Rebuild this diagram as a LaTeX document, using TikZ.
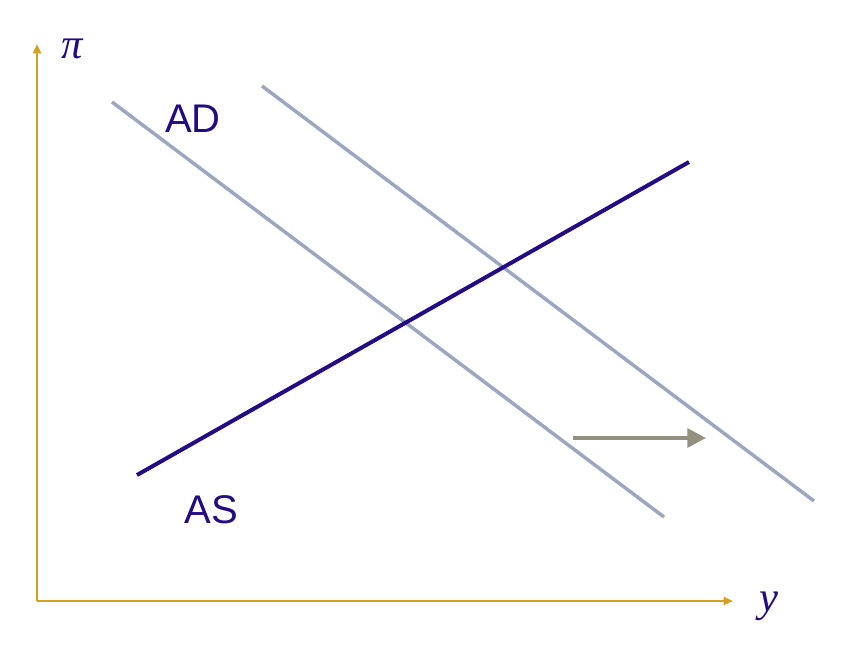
\documentclass[tikz,border=0pt]{standalone}
\usepackage{fontspec}
\setmainfont{Liberation Sans}
\newfontfamily\mathserif{Liberation Serif}
\usetikzlibrary{arrows.meta}
\definecolor{axiscol}{HTML}{D4A020}
\definecolor{adcol}{HTML}{9BA6C0}
\definecolor{ascol}{HTML}{250A85}
\definecolor{shiftcol}{HTML}{958F80}
\begin{document}
\begin{tikzpicture}[x=0.75pt,y=-0.75pt,
  axisline/.style={draw=axiscol,line width=1.5pt,-{Triangle[length=7pt,width=6pt]}},
  adline/.style={draw=adcol,line width=2.6pt},
  asline/.style={draw=ascol,line width=3pt},
  shiftarrow/.style={draw=shiftcol,line width=3pt,-{Triangle[length=14pt,width=14pt]}},
  lbl/.style={text=ascol,font=\fontsize{30}{30}\selectfont,inner sep=0pt},
  axlbl/.style={text=ascol,font=\mathserif\itshape\fontsize{32}{32}\selectfont,inner sep=0pt}]
\useasboundingbox (0,0) rectangle (852,668);
\coordinate (O) at (37,601);
\coordinate (ytop) at (37,44);
\coordinate (xend) at (733,601);
\draw[axisline] (O) -- (ytop);
\draw[axisline] (O) -- (xend);
\node[axlbl] (pi) at (72,49) {π};
\node[axlbl] (ylab) at (769,606) {y};
\coordinate (ad1a) at (112,102);
\coordinate (ad1b) at (664,517);
\coordinate (ad2a) at (262,86);
\coordinate (ad2b) at (814,501);
\coordinate (asa) at (137,475);
\coordinate (asb) at (689,162);
\draw[adline] (ad1a) -- (ad1b);
\draw[adline] (ad2a) -- (ad2b);
\draw[asline] (asa) -- (asb);
\node[lbl] (AD) at (193,119) {AD};
\node[lbl] (AS) at (211,510) {AS};
\coordinate (sha) at (573,438);
\coordinate (shb) at (706,438);
\draw[shiftarrow] (sha) -- (shb);
\end{tikzpicture}
\end{document}
